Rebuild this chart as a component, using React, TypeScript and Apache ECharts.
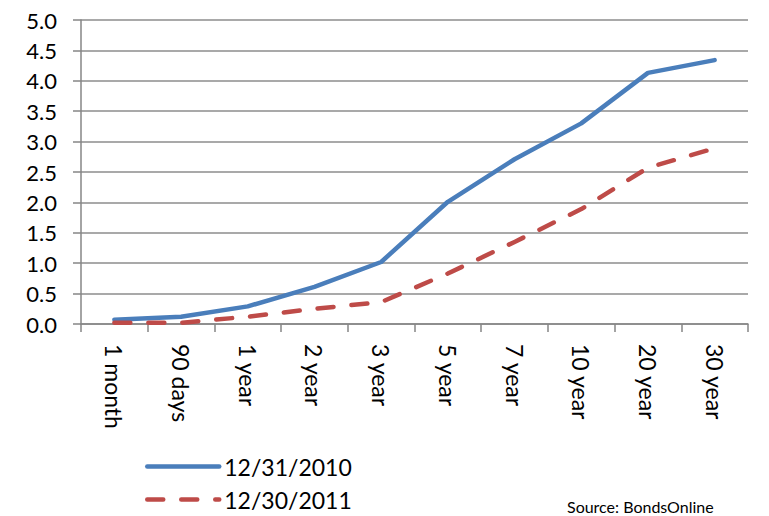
import React, { useEffect, useRef } from "react";
import * as echarts from "echarts";

const categories = ["1 month", "90 days", "1 year", "2 year", "3 year", "5 year", "7 year", "10 year", "20 year", "30 year"];
const series2010 = [0.07, 0.12, 0.29, 0.61, 1.02, 2.01, 2.71, 3.3, 4.13, 4.34];
const series2011 = [0.02, 0.02, 0.12, 0.25, 0.36, 0.83, 1.35, 1.89, 2.57, 2.89];
const seriesNames = ["12/31/2010", "12/30/2011"];
const sourceText = "Source: BondsOnline";

const FONT = "Lato";

export default function App() {
  const ref = useRef<HTMLDivElement>(null);
  useEffect(() => {
    if (!ref.current) return;
    const chart = echarts.init(ref.current, null, { renderer: "svg" });
    chart.setOption({
      animation: false,
      backgroundColor: "#ffffff",
      textStyle: { fontFamily: FONT },
      grid: { left: 81, right: 21, top: 20, bottom: 192, containLabel: false },
      legend: {
        orient: "vertical",
        left: 145,
        top: 455,
        padding: 0,
        itemWidth: 72,
        itemHeight: 14,
        itemGap: 10,
        data: seriesNames,
        itemStyle: { opacity: 0 },
        lineStyle: { width: 4.5, cap: "round" },
        textStyle: { fontFamily: FONT, fontSize: 23, color: "#000", padding: [0, 0, 0, 0] },
      },
      graphic: [
        {
          type: "text",
          left: 567,
          top: 498,
          style: { text: sourceText, fontFamily: FONT, fontSize: 16, fill: "#000" },
        },
      ],
      xAxis: {
        type: "category",
        data: categories,
        boundaryGap: true,
        axisLine: { show: true, lineStyle: { color: "#868686", width: 1.5 } },
        axisTick: { show: true, length: 8, lineStyle: { color: "#868686", width: 1.5 } },
        axisLabel: { rotate: -90, margin: 20, fontFamily: FONT, fontSize: 23, color: "#000" },
        splitLine: { show: false },
      },
      yAxis: {
        type: "value",
        min: 0,
        max: 5,
        interval: 0.5,
        axisLine: { show: true, lineStyle: { color: "#868686", width: 1.5 } },
        axisTick: { show: true, length: 8, lineStyle: { color: "#868686", width: 1.5 } },
        axisLabel: {
          margin: 24,
          fontFamily: FONT,
          fontSize: 22,
          color: "#000",
          formatter: (v: number) => v.toFixed(1),
        },
        splitLine: { show: true, lineStyle: { color: "#8c8c8c", width: 1.5 } },
      },
      series: [
        {
          name: seriesNames[0],
          type: "line",
          data: series2010,
          symbol: "none",
          lineStyle: { color: "#4A7EBB", width: 4.5, cap: "round", join: "round" },
          itemStyle: { color: "#4A7EBB" },
        },
        {
          name: seriesNames[1],
          type: "line",
          data: series2011,
          symbol: "none",
          lineStyle: { color: "#BE4B48", width: 4.5, type: [16, 18], cap: "round", join: "round" },
          itemStyle: { color: "#BE4B48" },
        },
      ],
    });
    return () => chart.dispose();
  }, []);
  return <div ref={ref} style={{ width: 769, height: 516, position: "absolute", left: 0, top: 0 }} />;
}
